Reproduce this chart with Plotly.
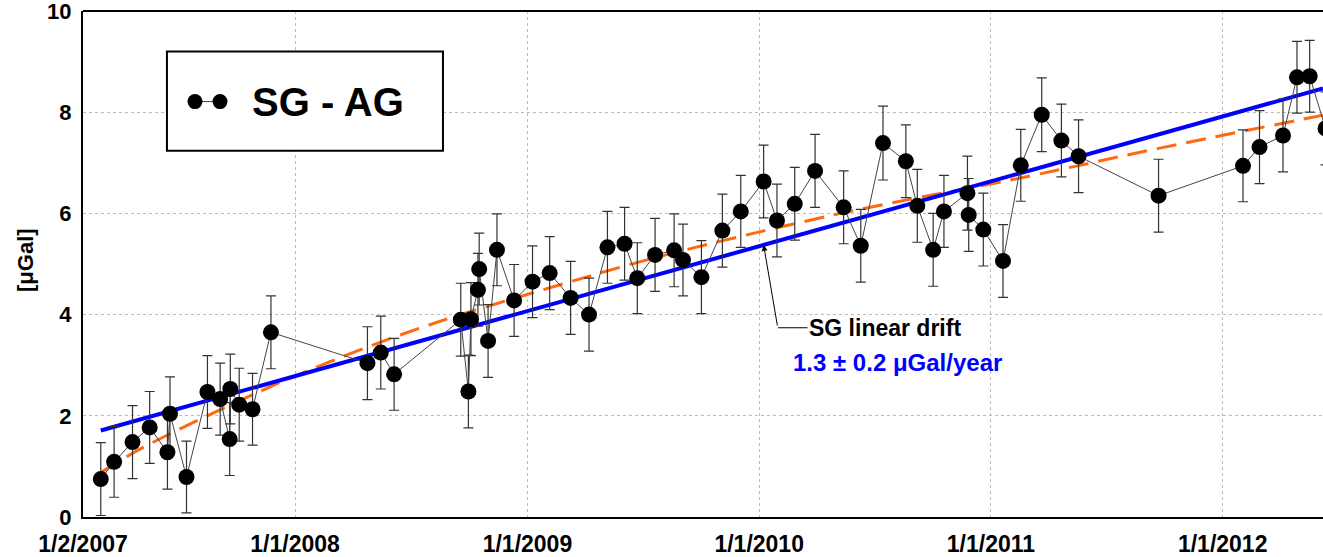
import datetime as dt
import plotly.graph_objects as go

# SG - AG differences (µGal) with AG uncertainties
obs_dates = [
    "2007-03-01", "2007-03-22", "2007-04-20", "2007-05-17", "2007-06-14", "2007-06-18",
    "2007-07-14", "2007-08-16", "2007-09-05", "2007-09-20", "2007-09-21", "2007-10-05",
    "2007-10-26", "2007-11-24", "2008-04-24", "2008-05-15", "2008-06-05", "2008-09-18",
    "2008-09-30", "2008-10-04", "2008-10-15", "2008-10-17", "2008-10-31", "2008-11-14",
    "2008-12-11", "2009-01-09", "2009-02-05", "2009-03-10", "2009-04-08", "2009-05-07",
    "2009-06-03", "2009-06-23", "2009-07-21", "2009-08-20", "2009-09-03", "2009-10-02",
    "2009-11-04", "2009-12-03", "2010-01-08", "2010-01-29", "2010-02-26", "2010-03-30",
    "2010-05-14", "2010-06-10", "2010-07-15", "2010-08-20", "2010-09-07", "2010-10-02",
    "2010-10-19", "2010-11-25", "2010-11-27", "2010-12-20", "2011-01-20", "2011-02-17",
    "2011-03-22", "2011-04-22", "2011-05-19", "2011-09-22", "2012-02-02", "2012-02-28",
    "2012-04-05", "2012-04-27", "2012-05-17", "2012-06-11",
]
sg_minus_ag = [
    0.75, 1.09, 1.48, 1.77, 1.28, 2.04,
    0.79, 2.47, 2.33, 1.54, 2.53, 2.22,
    2.13, 3.65, 3.04, 3.25, 2.82, 3.90,
    2.48, 3.91, 4.49, 4.90, 3.48, 5.28,
    4.28, 4.65, 4.82, 4.33, 4.00, 5.33,
    5.40, 4.72, 5.18, 5.27, 5.08, 4.74,
    5.66, 6.04, 6.63, 5.86, 6.19, 6.84,
    6.12, 5.36, 7.39, 7.03, 6.15, 5.28,
    6.04, 6.40, 5.97, 5.68, 5.06, 6.95,
    7.95, 7.44, 7.13, 6.35, 6.94, 7.31,
    7.54, 8.69, 8.71, 7.68,
]
ag_error = [
    0.72, 0.70, 0.72, 0.71, 0.73, 0.73,
    0.71, 0.72, 0.71, 0.72, 0.69, 0.72,
    0.71, 0.72, 0.72, 0.72, 0.71, 0.72,
    0.72, 0.72, 0.72, 0.71, 0.72, 0.71,
    0.71, 0.71, 0.72, 0.72, 0.72, 0.71,
    0.72, 0.70, 0.72, 0.72, 0.71, 0.72,
    0.72, 0.71, 0.72, 0.72, 0.72, 0.72,
    0.72, 0.72, 0.73, 0.72, 0.72, 0.72,
    0.71, 0.73, 0.72, 0.72, 0.72, 0.71,
    0.73, 0.72, 0.72, 0.72, 0.71, 0.72,
    0.72, 0.71, 0.71, 0.72,
]

# SG linear drift (1.3 µGal/year)
drift_dates = ["2007-03-01", "2012-06-07"]
drift_values = [1.71, 8.47]

# Fitted drift model (dashed)
model_dates = [
    "2007-03-01", "2007-05-06", "2007-11-01", "2008-02-25", "2008-07-31", "2009-02-16",
    "2009-07-29", "2010-05-13", "2011-02-16", "2011-09-24", "2012-06-07",
]
model_values = [0.88, 1.37, 2.45, 3.07, 3.80, 4.57, 5.15, 6.01, 6.70, 7.29, 7.94]

# Axis ticks
x_tickvals = ["2007-02-01", "2008-01-01", "2009-01-01", "2010-01-01", "2011-01-01", "2012-01-01"]
x_ticktext = ["1/2/2007", "1/1/2008", "1/1/2009", "1/1/2010", "1/1/2011", "1/1/2012"]
y_tickvals = [0, 2, 4, 6, 8, 10]

FONT = "Liberation Sans, Arial, sans-serif"

fig = go.Figure()

fig.add_trace(go.Scatter(
    x=model_dates, y=model_values, mode="lines",
    line=dict(color="#FF6A10", width=3, dash="20px,10px", shape="spline"),
    hoverinfo="skip", showlegend=False,
))
fig.add_trace(go.Scatter(
    x=drift_dates, y=drift_values, mode="lines",
    line=dict(color="#0000FF", width=4),
    hoverinfo="skip", showlegend=False,
))
fig.add_trace(go.Scatter(
    x=obs_dates, y=sg_minus_ag, mode="lines+markers", name="SG - AG",
    line=dict(color="#444444", width=1),
    marker=dict(color="black", size=16, line=dict(width=0)),
    error_y=dict(type="data", array=ag_error, visible=True,
                 color="#333333", thickness=1.2, width=5),
    showlegend=False,
))

# Legend box
lx0, lx1, ly0, ly1 = 0.0677, 0.2903, 0.724, 0.920
ly_mid = 0.821
fig.add_shape(type="rect", xref="paper", yref="paper", x0=lx0, x1=lx1, y0=ly0, y1=ly1,
              line=dict(color="black", width=2), fillcolor="white", layer="above")
fig.add_shape(type="line", xref="paper", yref="paper", x0=0.0903, x1=0.1105, y0=ly_mid, y1=ly_mid,
              line=dict(color="#444444", width=1), layer="above")
for cx in (0.0903, 0.1105):
    fig.add_shape(type="circle", xref="paper", yref="paper",
                  xsizemode="pixel", ysizemode="pixel", xanchor=cx, yanchor=ly_mid,
                  x0=-7.5, x1=7.5, y0=-7.5, y1=7.5,
                  fillcolor="black", line=dict(width=0), layer="above")
fig.add_annotation(xref="paper", yref="paper", x=0.1347, y=ly_mid, xanchor="left", yanchor="middle",
                   text="SG - AG", showarrow=False,
                   font=dict(family=FONT, size=40, color="black", weight="bold"))

# Top frame line
fig.add_shape(type="line", xref="paper", yref="paper", x0=0, x1=1, y0=1, y1=1,
              line=dict(color="black", width=2), layer="above")

# Drift label with elbow arrow onto the drift line
tip_date = "2010-01-08"
d0 = dt.date.fromisoformat(drift_dates[0])
d1 = dt.date.fromisoformat(drift_dates[1])
dtip = dt.date.fromisoformat(tip_date)
tip_val = drift_values[0] + (drift_values[1] - drift_values[0]) * (dtip - d0).days / (d1 - d0).days

elbow_x, elbow_y = 0.5605, 0.374
fig.add_annotation(xref="paper", yref="paper", x=elbow_x, y=elbow_y,
                   text="SG linear drift", showarrow=True, arrowhead=0, arrowwidth=1,
                   arrowcolor="black", ax=107, ay=0,
                   font=dict(family=FONT, size=23, color="black", weight="bold"))
fig.add_annotation(x=tip_date, y=tip_val, text="", showarrow=True,
                   arrowhead=2, arrowsize=1.2, arrowwidth=1, arrowcolor="black",
                   ax=14, ay=82)
fig.add_annotation(xref="paper", yref="paper", x=0.657, y=0.275,
                   text="1.3 ± 0.2 μGal/year", showarrow=False,
                   font=dict(family=FONT, size=24, color="#0000FF", weight="bold"))

# Y axis title
fig.add_annotation(xref="paper", yref="paper", x=0, xshift=-58, xanchor="center",
                   y=0.5, yshift=4, yanchor="middle",
                   text="[μGal]", textangle=-90, showarrow=False,
                   font=dict(family=FONT, size=22, color="black", weight="bold"))

fig.update_xaxes(
    type="date", range=["2007-02-01", "2012-06-07"],
    tickvals=x_tickvals, ticktext=x_ticktext, ticks="",
    tickfont=dict(family=FONT, size=23, color="black", weight="bold"),
    ticklabelstandoff=5, ticklabeloverflow="allow", automargin=False,
    showgrid=True, gridcolor="#BBBBBB", griddash="dot", gridwidth=1,
    showline=True, linecolor="black", linewidth=2, zeroline=False,
)
fig.update_yaxes(
    range=[0, 10], tickvals=y_tickvals, ticks="",
    tickfont=dict(family=FONT, size=22, color="black", weight="bold"),
    ticklabelstandoff=5, ticklabeloverflow="allow", automargin=False,
    showgrid=True, gridcolor="#BBBBBB", griddash="dot", gridwidth=1,
    showline=True, linecolor="black", linewidth=2, zeroline=False,
)

fig.update_layout(
    width=1323, height=557,
    margin=dict(l=83, r=0, t=11, b=40),
    paper_bgcolor="white", plot_bgcolor="white",
    showlegend=False,
)

fig.write_html("out.html")
